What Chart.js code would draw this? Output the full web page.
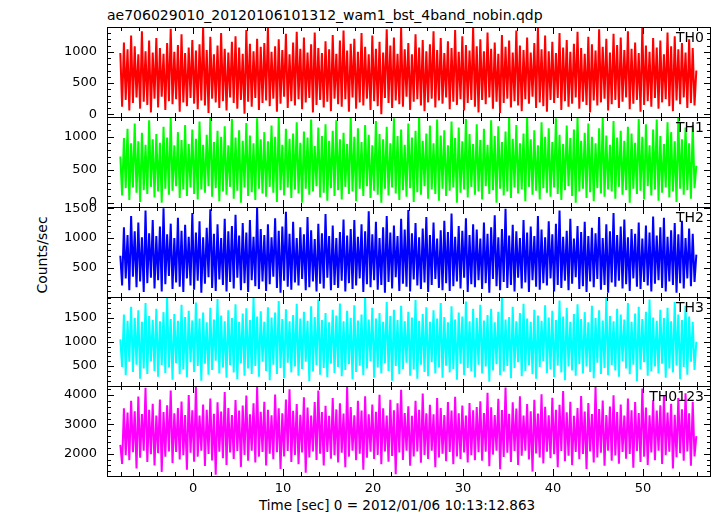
<!DOCTYPE html>
<html lang="en">
<head>
  <meta charset="UTF-8" />
  <title>ae706029010 WAM light curve</title>
  <script src="https://cdn.jsdelivr.net/npm/chart.js"></script>
  <style>
    body {
      margin: 0;
      background: #fff;
      font-family: 'DejaVu Sans', sans-serif;
      color: #000;
    }
    #wrap {
      position: relative;
      width: 717px;
      height: 516px;
      overflow: hidden;
    }
    .panel {
      position: absolute;
      left: 0;
    }
    .txt {
      position: absolute;
      line-height: 1;
      white-space: nowrap;
    }
  </style>
</head>
<body>
  <div id="wrap">
    <div class="txt" style="left:107px; top:8px; font-size:14px;">ae706029010_20120106101312_wam1_bst_4band_nobin.qdp</div>
    <div class="txt" style="left:42px; top:255px; font-size:14px; transform:translate(-50%,-50%) rotate(-90deg);">Counts/sec</div>
    <div class="txt" style="left:397px; top:499px; font-size:13.5px; transform:translateX(-50%);">Time [sec] 0 = 2012/01/06 10:13:12.863</div>
  </div>

  <script>
    // time bins (sec from 2012/01/06 10:13:12.863)
    const T0 = -8.08;
    const DT = 0.2;

    const panelNames = ['TH0', 'TH1', 'TH2', 'TH3', 'TH0123'];
    const xTicks = [0, 10, 20, 30, 40, 50];

    // y tick labels for each panel
    const yTicksTH0 = [0, 500, 1000];
    const yTicksTH1 = [0, 500, 1000];
    const yTicksTH2 = [500, 1000, 1500];
    const yTicksTH3 = [500, 1000, 1500];
    const yTicksTH0123 = [2000, 3000, 4000];

    // count rates (counts/sec)
    const th0 = [
      980, 120, 1150, 230, 1040, 60, 1260, 180, 1090, 270, 960, 90, 1330, 200, 1010, 150, 1180, 30, 990, 250,
      1220, 110, 1060, 280, 970, 70, 1140, 210, 1370, 160, 1000, 240, 1110, 40, 1280, 190, 980, 130, 1070, 260,
      1190, 170, 1020, 80, 1120, 220, 1400, 140, 1030, 20, 1240, 250, 960, 190, 1100, 100, 1300, 210, 1050, 60,
      990, 270, 1160, 180, 1250, 90, 1070, 230, 970, 10, 1350, 200, 1130, 120, 1010, 260, 1210, 70, 1080, 180,
      1140, 220, 1390, 130, 1000, 250, 1090, 40, 1200, 170, 1030, 280, 1290, 100, 960, 210, 1150, 140, 1320, 240,
      1050, 80, 1230, 190, 990, 260, 1120, 30, 1310, 150, 1060, 230, 980, 110, 1170, 200, 1040, 50, 1270, 250,
      970, 160, 1180, 120, 1340, 240, 1020, 40, 1130, 270, 1210, 90, 1000, 190, 1300, 140, 1080, 250, 960, 70,
      1260, 210, 1050, 130, 1160, 0, 990, 260, 1360, 180, 1100, 100, 1230, 220, 970, 160, 1380, 120, 1040, 280,
      1140, 70, 960, 200, 1280, 240, 1070, 140, 1190, 50, 1010, 190, 1120, 250, 1330, 110, 1030, 220, 1220, 170,
      980, 270, 1170, 80, 1060, 200, 1350, 150, 1000, 240, 1250, 60, 1110, 180, 1020, 230, 1400, 120, 1090, 30,
      1200, 230, 1010, 160, 1310, 270, 1050, 90, 1150, 200, 970, 20, 1270, 180, 1080, 250, 1180, 110, 990, 210,
      1340, 140, 1100, 50, 1030, 240, 1230, 170, 990, 280, 1140, 100, 1380, 190, 1040, 130, 1260, 40, 1010, 230,
      1160, 180, 980, 260, 1300, 70, 1070, 210, 1190, 120, 1000, 170, 1130, 270, 1320, 90, 1060, 200, 970, 150,
      1240, 30, 1120, 220, 1020, 140, 1360, 190, 1080, 250, 1210, 60, 990, 160, 1290, 230, 1110, 100, 1230, 200,
      1030, 270, 1330, 80, 1050, 170, 1150, 230, 980, 40, 1390, 150, 1100, 210, 1000, 120, 1220, 260, 1070, 90,
      1180, 190, 960, 240, 1310, 130, 1090, 50, 1250, 220, 1040, 160, 1140, 270, 990, 100, 1200, 180, 1060, 140,
      700
    ];
    const th1 = [
      700, 110, 980, 220, 1120, 40, 900, 230, 1200, 150, 930, 10, 1060, 190, 880, 130, 1250, 240, 960, 80,
      1040, 170, 910, 0, 1150, 210, 990, 120, 1290, 180, 870, 250, 1070, 70, 950, 200, 1180, 100, 890, 230,
      1110, 130, 970, 50, 1230, 200, 880, 150, 1030, 250, 1300, 90, 920, 220, 1090, 20, 1000, 170, 1160, 120,
      870, 240, 1270, 60, 990, 180, 1100, 0, 940, 230, 1210, 100, 1020, 160, 900, 40, 1280, 210, 960, 140,
      1070, 90, 930, 240, 1170, 150, 1000, 10, 1310, 190, 880, 110, 1120, 230, 970, 70, 1050, 200, 1220, 140,
      910, 0, 1080, 210, 990, 120, 1260, 170, 860, 250, 1140, 80, 1010, 150, 1190, 30, 940, 220, 1090, 100,
      1250, 190, 960, 50, 1060, 240, 890, 130, 1300, 170, 1000, 20, 1130, 210, 920, 100, 1180, 250, 1030, 70,
      870, 180, 1240, 120, 1040, 0, 960, 210, 1150, 110, 900, 230, 1280, 140, 1010, 40, 1110, 190, 880, 90,
      1200, 220, 990, 10, 1090, 160, 1300, 120, 940, 250, 1050, 60, 1170, 200, 900, 130, 1260, 30, 1020, 210,
      1100, 100, 870, 180, 1230, 230, 980, 0, 1140, 150, 930, 200, 1270, 80, 1040, 240, 890, 120, 1190, 170,
      950, 50, 1120, 250, 880, 130, 1250, 190, 1010, 0, 1160, 210, 920, 110, 1080, 170, 1300, 70, 970, 230,
      1180, 140, 900, 200, 1050, 20, 1290, 240, 960, 120, 1100, 180, 870, 50, 1220, 220, 1000, 150, 1130, 90,
      920, 230, 1280, 130, 1030, 40, 890, 190, 1170, 250, 980, 100, 1110, 0, 1310, 170, 940, 210, 1060, 70,
      1200, 160, 1000, 20, 900, 220, 1130, 140, 1300, 90, 1020, 200, 880, 170, 1240, 60, 990, 240, 1090, 120,
      940, 190, 1150, 0, 1050, 210, 910, 130, 1270, 180, 1000, 50, 1190, 250, 870, 110, 1110, 200, 1260, 30,
      1010, 150, 890, 230, 1220, 80, 1070, 170, 930, 10, 1290, 210, 960, 120, 1140, 190, 900, 60, 1180, 220,
      560
    ];
    const th2 = [
      700, 200, 1180, 320, 1050, 120, 1370, 350, 1110, 170, 1260, 270, 1010, 90, 1460, 240, 1080, 330, 1300, 150,
      1030, 290, 1190, 100, 1500, 220, 1060, 360, 1240, 140, 1000, 250, 1340, 180, 1120, 90, 1220, 320, 1020, 200,
      1420, 130, 1090, 280, 1280, 80, 1010, 230, 1170, 340, 1480, 160, 1070, 110, 1230, 300, 1000, 210, 1320, 100,
      1110, 260, 1200, 150, 1390, 330, 1040, 120, 1250, 240, 1090, 90, 1300, 290, 1020, 190, 1510, 140, 1150, 270,
      1050, 110, 1230, 220, 1010, 350, 1330, 160, 1120, 80, 1190, 280, 1440, 180, 1070, 130, 1270, 250, 1000, 200,
      1180, 310, 1060, 120, 1350, 170, 1130, 270, 980, 100, 1240, 230, 1080, 150, 1400, 330, 1030, 120, 1210, 210,
      1000, 160, 1100, 280, 1310, 100, 1040, 240, 1150, 140, 1300, 200, 1020, 320, 1230, 90, 1110, 220, 1450, 170,
      1060, 290, 1270, 130, 1000, 210, 1180, 80, 1370, 260, 1090, 150, 1210, 340, 1030, 110, 1320, 230, 1140, 180,
      1470, 100, 1080, 300, 1250, 200, 1010, 140, 1160, 250, 1350, 90, 1050, 210, 1260, 310, 990, 160, 1130, 120,
      1290, 240, 1100, 110, 1410, 190, 1020, 270, 1200, 150, 1120, 330, 1330, 90, 1050, 220, 1230, 170, 1140, 290,
      990, 140, 1260, 240, 1070, 80, 1180, 310, 1380, 190, 1010, 120, 1150, 260, 1490, 160, 1040, 210, 1220, 100,
      1110, 330, 1000, 150, 1300, 250, 1090, 90, 1190, 290, 1030, 180, 1370, 130, 1140, 240, 1010, 200, 1280, 320,
      1060, 100, 1240, 210, 1460, 160, 1020, 280, 1120, 120, 1320, 230, 990, 340, 1200, 140, 1100, 190, 1270, 90,
      1030, 270, 1170, 170, 1080, 310, 1350, 130, 1000, 210, 1230, 80, 1110, 250, 1420, 180, 1050, 280, 1190, 150,
      1310, 220, 1010, 110, 1150, 320, 1070, 180, 1260, 140, 990, 260, 1210, 200, 1090, 100, 1360, 230, 1040, 290,
      1180, 160, 1340, 100, 1020, 270, 1130, 210, 1250, 80, 1060, 240, 1290, 150, 1000, 320, 1160, 190, 1070, 260,
      720
    ];
    const th3 = [
      1050, 480, 1560, 310, 1430, 590, 1720, 380, 1490, 530, 1650, 240, 1410, 450, 1800, 340, 1530, 600, 1450, 400,
      1680, 280, 1420, 520, 1610, 360, 1900, 470, 1470, 220, 1570, 560, 1430, 330, 1760, 430, 1510, 270, 1640, 580,
      1440, 380, 1810, 500, 1480, 200, 1600, 550, 1400, 320, 1700, 420, 1460, 610, 1880, 350, 1540, 470, 1420, 260,
      1650, 520, 1490, 370, 1770, 230, 1410, 560, 1580, 300, 1690, 450, 1450, 340, 1920, 500, 1520, 280, 1630, 590,
      1410, 400, 1710, 210, 1500, 530, 1600, 340, 1840, 460, 1470, 250, 1670, 570, 1420, 370, 1550, 490, 1780, 300,
      1480, 440, 1620, 590, 1430, 190, 1730, 390, 1510, 520, 1870, 320, 1450, 460, 1590, 270, 1400, 550, 1660, 360,
      1540, 480, 1790, 290, 1420, 420, 1640, 540, 1490, 230, 1750, 380, 1440, 510, 1560, 310, 1920, 450, 1460, 600,
      1700, 260, 1480, 470, 1590, 350, 1410, 560, 1820, 400, 1530, 200, 1660, 500, 1450, 330, 1740, 440, 1420, 570,
      1620, 300, 1500, 430, 1860, 240, 1430, 530, 1570, 380, 1710, 290, 1410, 580, 1650, 350, 1480, 470, 1800, 260,
      1510, 510, 1400, 370, 1730, 440, 1460, 220, 1600, 550, 1520, 310, 1830, 460, 1420, 390, 1680, 270, 1490, 530,
      1760, 350, 1440, 490, 1550, 180, 1680, 410, 1400, 540, 1620, 310, 1900, 390, 1460, 500, 1510, 250, 1720, 460,
      1420, 580, 1590, 290, 1780, 400, 1480, 520, 1410, 330, 1660, 240, 1540, 480, 1430, 600, 1750, 360, 1500, 430,
      1640, 270, 1450, 510, 1850, 370, 1520, 210, 1700, 490, 1410, 410, 1570, 300, 1770, 540, 1470, 350, 1610, 490,
      1400, 380, 1740, 250, 1490, 570, 1650, 340, 1440, 460, 1910, 310, 1530, 520, 1420, 410, 1680, 280, 1560, 600,
      1460, 450, 1800, 330, 1410, 530, 1580, 190, 1720, 430, 1470, 580, 1620, 300, 1870, 390, 1500, 490, 1430, 350,
      1660, 550, 1490, 260, 1700, 450, 1420, 370, 1820, 510, 1560, 230, 1450, 480, 1740, 320, 1520, 590, 1410, 420,
      1000
    ];
    const th0123 = [
      2300, 1650, 3550, 1950, 3400, 1780, 3800, 2050, 3450, 1500, 3950, 1860, 3350, 2100, 4250, 1720, 3500, 1980, 3700, 1600,
      3300, 2020, 3850, 1380, 3420, 1900, 3650, 2080, 4150, 1680, 3380, 2060, 3560, 1800, 3780, 1950, 3320, 1450, 4000, 2030,
      3480, 1730, 4300, 1900, 3300, 2100, 3680, 1580, 3500, 1990, 3880, 1770, 3360, 1280, 3750, 2070, 3440, 1850, 4100, 1620,
      3560, 2040, 3320, 1820, 3830, 2090, 3470, 1550, 3640, 1960, 3980, 1760, 3340, 2100, 3720, 1700, 4280, 1900, 3430, 2060,
      3770, 1600, 3500, 2000, 3310, 1810, 4020, 2050, 3550, 1480, 3380, 1910, 3850, 2090, 4200, 1720, 3460, 1960, 3690, 1640,
      3330, 2040, 3920, 1350, 3570, 1870, 3300, 2080, 3760, 1790, 4150, 2000, 3420, 1600, 3630, 2060, 3290, 1830, 3900, 1950,
      3510, 1700, 3720, 2030, 3370, 1540, 4300, 1900, 3590, 2100, 3310, 1780, 3800, 2000, 3470, 1450, 3960, 1860, 3340, 2070,
      3680, 1820, 3430, 1960, 4010, 1640, 3550, 2080, 3300, 1730, 3840, 1920, 3480, 1300, 3720, 2040, 4180, 1790, 3390, 2100,
      3620, 1590, 3290, 1910, 3800, 2080, 3500, 1690, 4050, 1960, 3380, 1820, 3670, 2100, 3340, 1540, 3900, 1870, 3560, 2000,
      3320, 1740, 3760, 2060, 3470, 1640, 3940, 1910, 3380, 1820, 3640, 2040, 3300, 1700, 3730, 1950, 3480, 1780, 3590, 2050,
      3790, 1760, 3390, 2070, 4080, 1570, 3580, 1970, 3320, 2100, 3870, 1470, 3490, 1890, 4260, 2030, 3360, 1720, 3750, 2090,
      3540, 1620, 3960, 1930, 3300, 2100, 3690, 1800, 3450, 1390, 3840, 2010, 3370, 1870, 4030, 1670, 3600, 2070, 3310, 1850,
      3910, 1980, 3500, 1540, 3670, 2090, 4140, 1740, 3410, 1930, 3770, 1610, 3290, 2060, 3560, 1810, 3970, 1990, 3440, 1480,
      3730, 2080, 3350, 1700, 4290, 1870, 3520, 2030, 3810, 1590, 3320, 2100, 3610, 1760, 3990, 1940, 3420, 1660, 3680, 2060,
      3300, 1830, 3880, 1990, 3480, 1520, 3760, 2090, 3390, 1720, 4220, 1900, 3570, 1620, 3310, 2040, 3820, 1780, 3470, 2100,
      3650, 1650, 3990, 1950, 3400, 2070, 3700, 1500, 3330, 1880, 3900, 2020, 3510, 1760, 4060, 2080, 3380, 1590, 3770, 1910,
      2600
    ];

    Chart.defaults.font.family = "'DejaVu Sans', sans-serif";
    Chart.defaults.font.size = 13;
    Chart.defaults.color = '#000';

    // panel frames in page pixels: top edges, last entry is bottom of the last panel
    const edges = [27, 117, 207, 297, 386, 476];
    const PAD = 14;
    const X_MIN = -9.56, X_MAX = 57.55;

    const panels = [
      { data: th0, color: '#ff0000', min: -44, max: 1398, ticks: yTicksTH0, minor: 100 },
      { data: th1, color: '#00ff00', min: -66, max: 1300, ticks: yTicksTH1, minor: 100 },
      { data: th2, color: '#0000ff', min: 7, max: 1520, ticks: yTicksTH2, minor: 100 },
      { data: th3, color: '#00ffff', min: 90, max: 1922, ticks: yTicksTH3, minor: 100 },
      { data: th0123, color: '#ff00ff', min: 1240, max: 4308, ticks: yTicksTH0123, minor: 200 }
    ];

    // frame + inward ticks on all four sides, qdp style
    const frameTicks = {
      id: 'frameTicks',
      afterDatasetsDraw(chart, args, opts) {
        const { ctx, chartArea: a, scales: { x, y } } = chart;
        ctx.save();
        ctx.strokeStyle = '#000';
        ctx.lineWidth = 1;
        ctx.strokeRect(a.left + 0.5, a.top + 0.5, a.right - a.left - 1, a.bottom - a.top);
        ctx.beginPath();
        for (let t = Math.ceil(x.min / 2) * 2; t <= x.max; t += 2) {
          const px = Math.round(x.getPixelForValue(t)) + 0.5;
          const len = t % 10 === 0 ? 7 : 4;
          ctx.moveTo(px, a.top); ctx.lineTo(px, a.top + len);
          ctx.moveTo(px, a.bottom); ctx.lineTo(px, a.bottom - len);
        }
        const major = opts.ticks[1] - opts.ticks[0];
        for (let v = Math.ceil(y.min / opts.minor) * opts.minor; v <= y.max; v += opts.minor) {
          const py = Math.round(y.getPixelForValue(v)) + 0.5;
          const len = v % major === 0 ? 7 : 4;
          ctx.moveTo(a.left, py); ctx.lineTo(a.left + len, py);
          ctx.moveTo(a.right, py); ctx.lineTo(a.right - len, py);
        }
        ctx.stroke();
        ctx.restore();
      }
    };

    const wrap = document.getElementById('wrap');

    panels.forEach((p, i) => {
      const last = i === panels.length - 1;
      const top = edges[i], bottom = edges[i + 1];
      const below = last ? 30 : PAD;

      const box = document.createElement('div');
      box.className = 'panel';
      box.style.top = (top - PAD) + 'px';
      const canvas = document.createElement('canvas');
      canvas.width = 717;
      canvas.height = bottom - top + PAD + below;
      box.appendChild(canvas);
      wrap.appendChild(box);

      const label = document.createElement('div');
      label.className = 'txt';
      label.style.cssText = 'right:13px; top:' + (top + 3) + 'px; font-size:14px;';
      label.textContent = panelNames[i];
      wrap.appendChild(label);

      const points = p.data.map((v, k) => ({ x: T0 + k * DT, y: v }));

      new Chart(canvas, {
        type: 'line',
        data: {
          datasets: [{
            data: points,
            borderColor: p.color,
            borderWidth: 2,
            borderJoinStyle: 'miter',
            pointRadius: 0,
            tension: 0
          }]
        },
        options: {
          responsive: false,
          animation: false,
          events: [],
          layout: { padding: { top: PAD, right: 6, left: 0, bottom: 0 } },
          plugins: {
            legend: { display: false },
            tooltip: { enabled: false },
            frameTicks: { ticks: p.ticks, minor: p.minor }
          },
          scales: {
            x: {
              type: 'linear',
              min: X_MIN,
              max: X_MAX,
              grid: { display: false, drawTicks: false },
              border: { display: false },
              ticks: { display: last, padding: 5, autoSkip: false, maxRotation: 0, callback: v => String(v) },
              afterBuildTicks: s => { s.ticks = xTicks.map(v => ({ value: v })); },
              afterFit: s => { s.height = below; s.paddingLeft = 0; s.paddingRight = 0; }
            },
            y: {
              type: 'linear',
              min: p.min,
              max: p.max,
              grid: { display: false, drawTicks: false },
              border: { display: false },
              ticks: { padding: 10, autoSkip: false, callback: v => String(v) },
              afterBuildTicks: s => { s.ticks = p.ticks.map(v => ({ value: v })); },
              afterFit: s => { s.width = 107; s.paddingTop = 0; s.paddingBottom = 0; }
            }
          }
        },
        plugins: [frameTicks]
      });
    });
  </script>
</body>
</html>
